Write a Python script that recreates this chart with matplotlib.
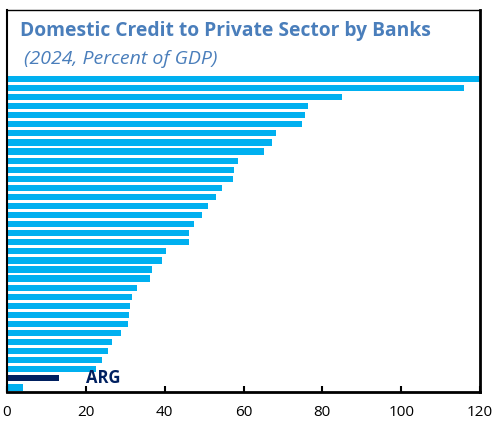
import numpy as np
import matplotlib.pyplot as plt

plt.rcParams['font.family'] = ['Open Sans', 'DejaVu Sans']

# Domestic credit to private sector by banks, % of GDP (2024), sorted high to low
values = [120.0, 115.9, 85.0, 76.3, 75.6, 74.8, 68.2, 67.3, 65.3, 58.6,
          57.5, 57.3, 54.5, 53.0, 50.9, 49.5, 47.4, 46.3, 46.1, 40.4,
          39.4, 36.8, 36.2, 32.9, 31.7, 31.2, 31.0, 30.8, 29.0, 26.7,
          25.7, 24.2, 22.6, 13.3, 4.0]
highlight = 33  # ARG
xticks = [0, 20, 40, 60, 80, 100, 120]

light_blue = '#00B0F0'
navy = '#002060'
title_blue = '#4A7EBB'

colors = [navy if i == highlight else light_blue for i in range(len(values))]
ypos = np.arange(len(values))

fig = plt.figure(figsize=(4.95, 4.23), dpi=100)
ax = fig.add_axes([7 / 495, 1 - 392 / 423, 473 / 495, 382 / 423])

ax.barh(ypos, values, height=0.68, color=colors)
ax.text(20, highlight, 'ARG', color=navy, fontsize=12, fontweight='bold',
        ha='left', va='center')

ax.set_xlim(0, 120)
ax.set_ylim(34.5, -7.6)
ax.set_xticks(xticks)
ax.set_xticklabels([str(t) for t in xticks], fontsize=11)
ax.set_yticks([])
ax.tick_params(axis='x', direction='in', length=4, width=1.5, pad=9)

for side, lw in [('left', 1.5), ('right', 2), ('top', 1), ('bottom', 2)]:
    ax.spines[side].set_linewidth(lw)
    ax.spines[side].set_color('black')

fig.text(20 / 495, 1 - 31 / 423, 'Domestic Credit to Private Sector by Banks',
         color=title_blue, fontsize=13.9, fontweight='bold', ha='left', va='center')
fig.text(24 / 495, 1 - 59 / 423, '(2024, Percent of GDP)',
         color=title_blue, fontsize=14, fontstyle='italic', ha='left', va='center')

fig.savefig('out.png', dpi=100)
